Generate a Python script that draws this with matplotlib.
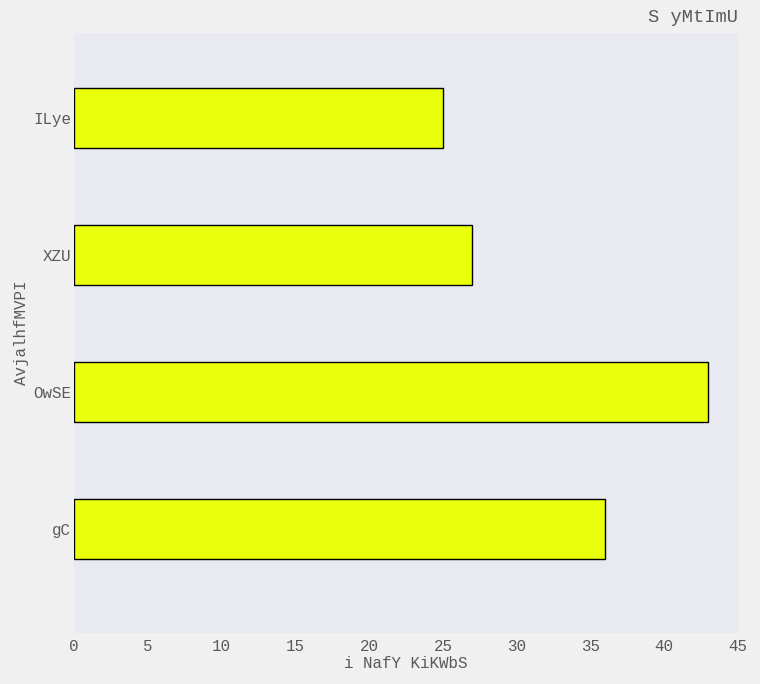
import matplotlib.pyplot as plt

categories = ['gC', 'OwSE', 'XZU', 'ILye']
values = [36, 43, 27, 25]
xticks = [0, 5, 10, 15, 20, 25, 30, 35, 40, 45]

plt.rcParams['font.family'] = ['Liberation Mono', 'DejaVu Sans']
text_color = '#5a5a5a'

fig = plt.figure(figsize=(7.6, 6.84), dpi=100, facecolor='#f0f0f0')
ax = fig.add_axes([74 / 760, 1 - 633 / 684, (738 - 74) / 760, (633 - 33) / 684])
ax.set_facecolor('#e9e9f2')

ax.barh(range(len(categories)), values, height=0.44, color='#eaff0c',
        edgecolor='black', linewidth=1.0, zorder=2)

ax.set_yticks(range(len(categories)))
ax.set_yticklabels(categories)
ax.set_xticks(xticks)
ax.set_xlim(0, 45)
ax.set_ylim(-0.76, 3.62)

for s in ax.spines.values():
    s.set_visible(False)
ax.tick_params(axis='x', length=0, labelsize=11.4, colors=text_color, pad=4)
ax.tick_params(axis='y', length=0, labelsize=11.4, colors=text_color, pad=2)

ax.set_xlabel('i NafY KiKWbS', fontsize=11.4, color=text_color, labelpad=2)
ax.set_ylabel('AvjalhfMVPI', fontsize=11.4, color=text_color, labelpad=3)
ax.set_title('S yMtImU', loc='right', fontsize=13.5, color=text_color, pad=8)

fig.savefig('out.png', dpi=100, facecolor=fig.get_facecolor())
